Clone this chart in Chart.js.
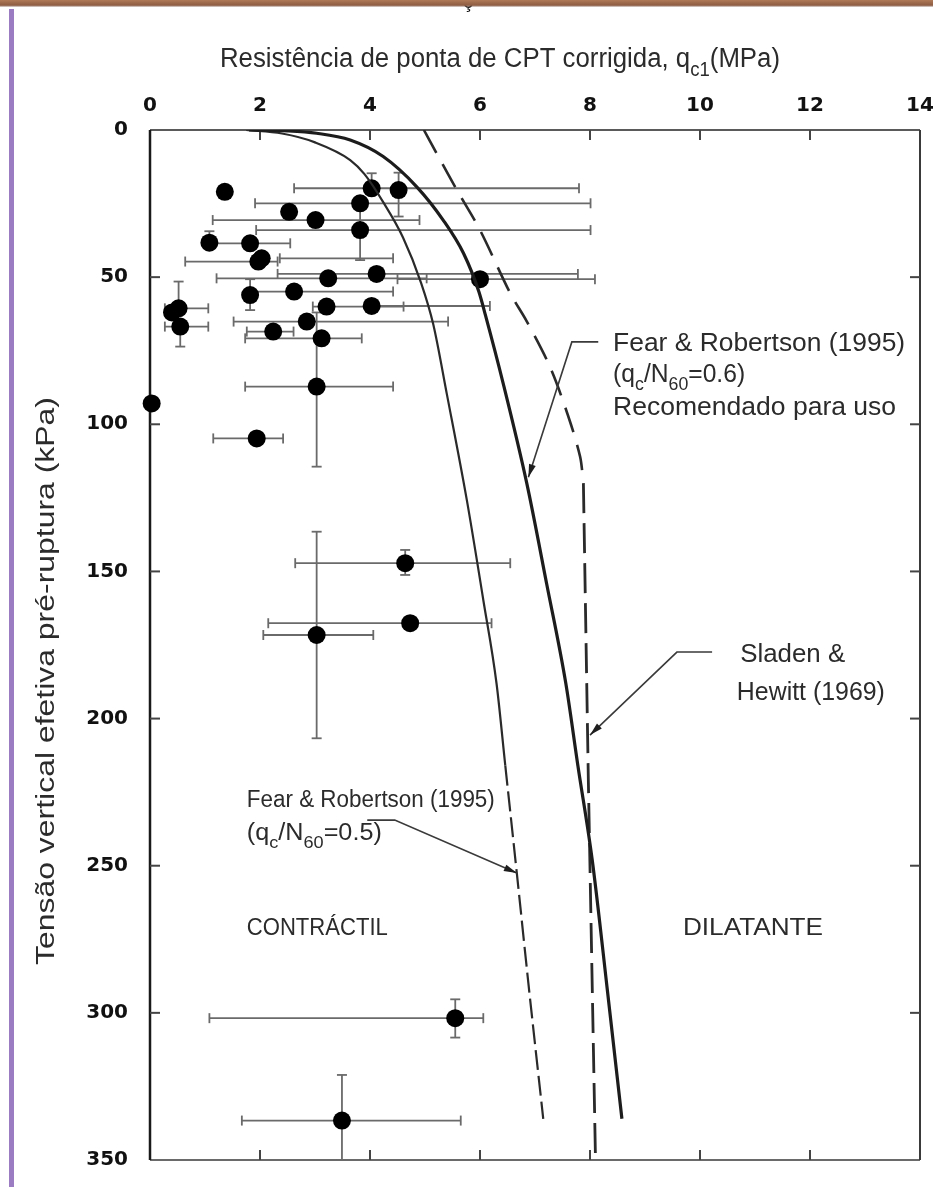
<!DOCTYPE html>
<html>
<head>
<meta charset="utf-8">
<title>Resistência de ponta de CPT x tensão vertical efetiva</title>
<script src="https://cdn.jsdelivr.net/npm/chart.js@4.4.1/dist/chart.umd.min.js"></script>
<style>
  html, body { margin: 0; padding: 0; background: #fff; }
  #wrap { width: 933px; height: 1187px; }
</style>
</head>
<body>
<div id="wrap"><canvas id="cptChart" width="933" height="1187"></canvas></div>
<script>
// Case histories: corrected CPT tip resistance qc1 (MPa) vs pre-failure vertical effective stress (kPa)
const qc1    = [1.36, 4.03, 4.52, 2.53, 3.82, 3.01, 3.82, 1.08, 1.82, 1.97, 2.03, 3.24, 4.12, 6.00, 1.82, 2.62, 0.40, 0.52, 0.55, 3.21, 4.03, 2.85, 2.24, 3.12, 3.03, 0.03, 1.94, 4.64, 4.73, 3.03, 5.55, 3.49];
const sigmaV = [21.0, 19.8, 20.4, 27.8, 24.9, 30.6, 34.0, 38.3, 38.5, 44.7, 43.6, 50.4, 48.9, 50.7, 56.1, 54.9, 62.0, 60.6, 66.8, 60.0, 59.8, 65.1, 68.5, 70.8, 87.2, 92.9, 104.8, 147.2, 167.6, 171.6, 301.8, 336.6];

// Ranges (null = no bar on that side)
const qcLow   = [null, 2.62, null, null, 1.91, 1.14, 1.93, null, 1.08, 0.64, 2.36, 1.21, 2.32, 4.50, null, 1.82, null, 0.27, 0.27, 2.96, null, 1.52, 1.76, 1.73, 1.73, null, 1.15, 2.64, 2.15, 2.06, 1.08, 1.67];
const qcHigh  = [null, 7.80, null, null, 8.01, 4.90, 8.01, null, 2.55, 2.32, 4.42, 5.03, 7.78, 8.09, null, 4.42, null, 1.06, 1.06, 4.61, 6.18, 5.42, 2.61, 3.85, 4.42, null, 2.42, 6.55, 6.21, 4.06, 6.06, 5.65];
const sigLow  = [null, 14.7, 14.5, null, null, null, 24.0, 34.4, null, null, null, null, null, null, 50.7, null, null, 51.5, null, null, null, null, null, null, 62.0, null, null, 142.7, null, 136.5, 295.4, 321.1];
const sigHigh = [null, null, 29.4, null, null, null, 44.2, null, null, null, null, null, null, null, 61.2, null, null, null, 73.6, null, null, null, null, null, 114.4, null, null, 151.2, null, 206.7, 308.4, 350.0];

// Fear & Robertson (1995), qc/N60 = 0.6
const fr06Qc  = [1.80, 2.50, 3.03, 3.64, 4.24, 4.85, 5.33, 5.70, 5.98, 6.10, 6.42, 6.85, 7.21, 7.56, 7.78, 8.04, 8.32, 8.58];
const fr06Sig = [0, 0.3, 1.1, 3.4, 9.0, 19.3, 30.6, 41.9, 55.0, 63.0, 86.0, 120.0, 154.0, 188.0, 216.0, 248.0, 293.0, 336.0];

// Fear & Robertson (1995), qc/N60 = 0.5
const fr05Qc  = [1.75, 2.40, 3.00, 3.64, 3.90, 4.24, 4.60, 4.93, 5.15, 5.40, 5.76, 6.06, 6.30, 6.46, 6.67, 6.88, 7.15];
const fr05Sig = [0, 1.2, 4.2, 10.2, 15.0, 24.5, 36.5, 52.0, 66.0, 90.0, 125.7, 159.7, 188.0, 216.0, 252.6, 290.0, 336.0];

// Sladen & Hewitt (1969)
const shQc      = [4.98, 5.21, 5.58, 6.00, 6.55, 6.85, 7.27, 7.60, 7.82, 7.88];
const shSig     = [0, 7.9, 20.4, 34.0, 55.5, 65.0, 80.4, 97.0, 111.0, 120.0];
const shVertQc  = [7.88, 7.97, 8.10];
const shVertSig = [120.0, 221.0, 350.0];

const qcTicks    = [0, 2, 4, 6, 8, 10, 12, 14];
const sigmaTicks = [0, 50, 100, 150, 200, 250, 300, 350];

const toXY = (xs, ys) => xs.map((v, i) => ({ x: v, y: ys[i] }));

const TEXT = '#2b2b2b';
const SANS = '"Liberation Sans", Arial, sans-serif';

// draws text made of normal/subscript pieces, squeezed to a given width
function richText(ctx, parts, x, y, size, width) {
  const sub = size * 0.72;
  let total = 0;
  const widths = parts.map(p => {
    ctx.font = `${p[1] ? sub : size}px ${SANS}`;
    const w = ctx.measureText(p[0]).width;
    total += w;
    return w;
  });
  const sx = width ? width / total : 1;
  ctx.save();
  ctx.translate(x, y);
  ctx.scale(sx, 1);
  ctx.fillStyle = TEXT;
  ctx.textBaseline = 'alphabetic';
  ctx.textAlign = 'left';
  let cx = 0;
  parts.forEach((p, i) => {
    ctx.font = `${p[1] ? sub : size}px ${SANS}`;
    ctx.fillText(p[0], cx, p[1] ? size * 0.33 : 0);
    cx += widths[i];
  });
  ctx.restore();
}

// page frame: brown strip on top, lilac strip on the left
const frame = {
  id: 'frame',
  beforeDraw(chart) {
    const ctx = chart.ctx;
    ctx.save();
    ctx.fillStyle = '#fff';
    ctx.fillRect(0, 0, chart.width, chart.height);
    ctx.fillStyle = '#111';
    ctx.font = `20px ${SANS}`;
    ctx.fillText('ç', 463, 8);
    const g = ctx.createLinearGradient(0, 0, 0, 7);
    g.addColorStop(0, '#b07a58');
    g.addColorStop(0.75, '#8e5c42');
    g.addColorStop(1, 'rgba(140,110,100,0.25)');
    ctx.fillStyle = g;
    ctx.fillRect(0, 0, chart.width, 7);
    ctx.fillStyle = '#9b7cc2';
    ctx.fillRect(9, 9, 5, chart.height - 9);
    ctx.restore();
  }
};

// plot box with inward tick marks on all four sides
const box = {
  id: 'box',
  beforeDatasetsDraw(chart) {
    const { ctx, chartArea: a, scales: { x, y } } = chart;
    ctx.save();
    ctx.lineCap = 'butt';
    const seg = (x1, y1, x2, y2, c, w) => {
      ctx.strokeStyle = c; ctx.lineWidth = w;
      ctx.beginPath(); ctx.moveTo(x1, y1); ctx.lineTo(x2, y2); ctx.stroke();
    };
    seg(a.left, a.top, a.right, a.top, '#5a5a5a', 2);
    seg(a.left, a.bottom, a.right, a.bottom, '#6a6a6a', 2);
    seg(a.right, a.top, a.right, a.bottom, '#3a3a3a', 2);
    seg(a.left, a.top, a.left, a.bottom, '#1a1a1a', 2.5);
    const tl = 10;
    qcTicks.slice(1, -1).forEach(v => {
      const px = x.getPixelForValue(v);
      seg(px, a.top, px, a.top + tl, '#444', 2);
      seg(px, a.bottom, px, a.bottom - tl, '#444', 2);
    });
    sigmaTicks.slice(1, -1).forEach(v => {
      const py = y.getPixelForValue(v);
      seg(a.left, py, a.left + tl, py, '#444', 2);
      seg(a.right, py, a.right - tl, py, '#444', 2);
    });
    ctx.restore();
  }
};

// horizontal (qc1) and vertical (sigma) ranges with end caps
const errorBars = {
  id: 'errorBars',
  beforeDatasetsDraw(chart) {
    const { ctx, scales: { x, y } } = chart;
    const cap = 5;
    ctx.save();
    ctx.strokeStyle = '#6a6a6a';
    ctx.lineWidth = 1.8;
    const line = (x1, y1, x2, y2) => {
      ctx.beginPath(); ctx.moveTo(x1, y1); ctx.lineTo(x2, y2); ctx.stroke();
    };
    qc1.forEach((q, i) => {
      const px = x.getPixelForValue(q);
      const py = y.getPixelForValue(sigmaV[i]);
      if (qcLow[i] !== null || qcHigh[i] !== null) {
        const a = x.getPixelForValue(qcLow[i] ?? q);
        const b = x.getPixelForValue(qcHigh[i] ?? q);
        line(a, py, b, py);
        if (qcLow[i] !== null) line(a, py - cap, a, py + cap);
        if (qcHigh[i] !== null) line(b, py - cap, b, py + cap);
      }
      if (sigLow[i] !== null || sigHigh[i] !== null) {
        const a = y.getPixelForValue(sigLow[i] ?? sigmaV[i]);
        const b = y.getPixelForValue(sigHigh[i] ?? sigmaV[i]);
        line(px, a, px, b);
        if (sigLow[i] !== null) line(px - cap, a, px + cap, a);
        if (sigHigh[i] !== null) line(px - cap, b, px + cap, b);
      }
    });
    ctx.restore();
  }
};

// curve labels with leader arrows, region names and axis titles
const notes = {
  id: 'notes',
  afterDatasetsDraw(chart) {
    const { ctx, chartArea: a, scales: { x, y } } = chart;
    const P = (q, s) => [x.getPixelForValue(q), y.getPixelForValue(s)];

    const leader = pts => {
      const p = pts.map(v => P(v[0], v[1]));
      ctx.save();
      ctx.strokeStyle = '#3a3a3a';
      ctx.lineWidth = 1.6;
      ctx.beginPath();
      ctx.moveTo(p[0][0], p[0][1]);
      p.slice(1).forEach(v => ctx.lineTo(v[0], v[1]));
      ctx.stroke();
      const [tx, ty] = p[p.length - 1];
      const [fx, fy] = p[p.length - 2];
      const ang = Math.atan2(ty - fy, tx - fx);
      ctx.translate(tx, ty);
      ctx.rotate(ang);
      ctx.fillStyle = '#1e1e1e';
      ctx.beginPath();
      ctx.moveTo(0, 0);
      ctx.lineTo(-13, -3.5);
      ctx.lineTo(-13, 3.5);
      ctx.closePath();
      ctx.fill();
      ctx.restore();
    };

    leader([[8.15, 72], [7.67, 72], [6.88, 118]]);
    leader([[10.22, 177.4], [9.58, 177.4], [8.0, 205.6]]);
    leader([[3.95, 234.5], [4.45, 234.5], [6.67, 252.5]]);

    const note = (parts, q, s, size, w) => {
      const [px, py] = P(q, s);
      richText(ctx, parts, px, py, size, w);
    };
    note([['Fear & Robertson (1995)']], 8.42, 75.1, 25, 292);
    note([['(q'], ['c', 1], ['/N'], ['60', 1], ['=0.6)']], 8.42, 85.6, 25, 132);
    note([['Recomendado para uso']], 8.42, 96.8, 25, 283);
    note([['Sladen &']], 10.73, 180.8, 25, 105);
    note([['Hewitt (1969)']], 10.67, 193.7, 25, 148);
    note([['Fear & Robertson (1995)']], 1.76, 230.0, 23, 248);
    note([['(q'], ['c', 1], ['/N'], ['60', 1], ['=0.5)']], 1.76, 241.3, 23, 135);
    note([['CONTRÁCTIL']], 1.76, 273.5, 23, 141);
    note([['DILATANTE']], 9.69, 273.5, 23, 140);

    // axis titles
    richText(ctx, [['Resistência de ponta de CPT corrigida, q'], ['c1', 1], ['(MPa)']], a.left + 70, 67, 27, 560);
    ctx.save();
    ctx.translate(54, 965);
    ctx.rotate(-Math.PI / 2);
    richText(ctx, [['Tensão vertical efetiva pré-ruptura (kPa)']], 0, 0, 25, 568);
    ctx.restore();
  }
};

const tickFont = { family: '"DejaVu Sans", sans-serif', weight: 'bold', size: 20 };

// keep the plot box fixed: no extra room for overhanging end labels
const noOverhang = s => {
  s.paddingLeft = 0; s.paddingRight = 0; s.paddingTop = 0; s.paddingBottom = 0;
};

new Chart(document.getElementById('cptChart'), {
  type: 'scatter',
  data: {
    datasets: [
      {
        label: 'Fear & Robertson (1995) qc/N60 = 0.6',
        data: toXY(fr06Qc, fr06Sig),
        showLine: true, borderColor: '#1c1c1c', borderWidth: 3.2,
        pointRadius: 0, cubicInterpolationMode: 'monotone'
      },
      {
        label: 'Fear & Robertson (1995) qc/N60 = 0.5',
        data: toXY(fr05Qc, fr05Sig),
        showLine: true, borderColor: '#2a2a2a', borderWidth: 2.2,
        pointRadius: 0, cubicInterpolationMode: 'monotone',
        segment: { borderDash: c => (c.p0.parsed.y >= 214 ? [20, 6] : undefined) }
      },
      {
        label: 'Sladen & Hewitt (1969)',
        data: toXY(shQc, shSig),
        showLine: true, borderColor: '#2a2a2a', borderWidth: 2.6,
        borderDash: [26, 13], pointRadius: 0, tension: 0.3
      },
      {
        label: 'Sladen & Hewitt (1969) vertical',
        data: toXY(shVertQc, shVertSig),
        showLine: true, borderColor: '#2a2a2a', borderWidth: 2.8,
        borderDash: [30, 10], pointRadius: 0, tension: 0
      },
      {
        label: 'Casos históricos',
        data: toXY(qc1, sigmaV),
        showLine: false, pointRadius: 9,
        pointBackgroundColor: '#000', pointBorderWidth: 0,
        clip: false
      }
    ]
  },
  options: {
    responsive: false,
    animation: false,
    devicePixelRatio: 1,
    layout: { padding: { left: 0, top: 0, right: 13, bottom: 27 } },
    plugins: { legend: { display: false }, tooltip: { enabled: false } },
    scales: {
      x: {
        type: 'linear', position: 'top', min: 0, max: 14,
        afterBuildTicks: s => { s.ticks = qcTicks.map(v => ({ value: v })); },
        afterFit: s => { s.height = 130; noOverhang(s); },
        ticks: { font: tickFont, color: '#111', padding: 12, autoSkip: false, maxRotation: 0 },
        grid: { display: false, drawTicks: false },
        border: { display: false }
      },
      y: {
        type: 'linear', reverse: true, min: 0, max: 350,
        afterBuildTicks: s => { s.ticks = sigmaTicks.map(v => ({ value: v })); },
        afterFit: s => { s.width = 150; noOverhang(s); },
        ticks: { font: tickFont, color: '#111', padding: 22, autoSkip: false },
        grid: { display: false, drawTicks: false },
        border: { display: false }
      }
    }
  },
  plugins: [frame, box, errorBars, notes]
});
</script>
</body>
</html>
